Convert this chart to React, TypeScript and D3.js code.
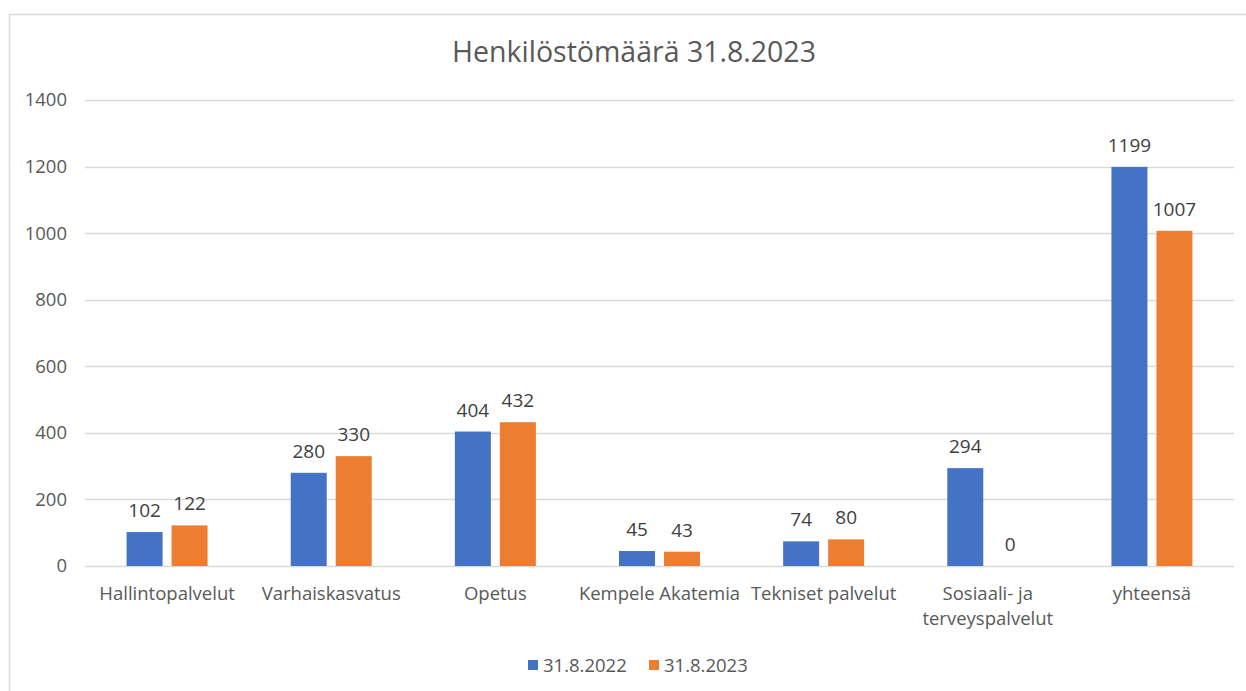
import React from "react";
import * as d3 from "d3";

const categories: string[][] = [
  ["Hallintopalvelut"],
  ["Varhaiskasvatus"],
  ["Opetus"],
  ["Kempele Akatemia"],
  ["Tekniset palvelut"],
  ["Sosiaali- ja", "terveyspalvelut"],
  ["yhteensä"],
];
const seriesNames = ["31.8.2022", "31.8.2023"];
const values2022 = [102, 280, 404, 45, 74, 294, 1199];
const values2023 = [122, 330, 432, 43, 80, 0, 1007];
const yTicks = [0, 200, 400, 600, 800, 1000, 1200, 1400];
const colors = ["#4472C4", "#ED7D31"];

const W = 1246;
const H = 691;
const FONT = "'Open Sans', sans-serif";
const TEXT = "#595959";

export default function App() {
  const left = 85;
  const right = 1234;
  const top = 100;
  const bottom = 566;
  const x = d3.scaleBand<number>().domain(d3.range(categories.length)).range([left, right]).paddingInner(0).paddingOuter(0);
  const y = d3.scaleLinear().domain([0, 1400]).range([bottom, top]);
  const barW = 36;
  const gap = 9;
  const series = [values2022, values2023];

  return (
    <div style={{ position: "absolute", left: 0, top: 0, width: W, height: H, background: "#fff" }}>
      <svg width={W} height={H} style={{ display: "block" }}>
        <rect x={9.5} y={14.5} width={W} height={H} fill="#fff" stroke="#D9D9D9" strokeWidth={1.5} />
        <text x={634} y={62} textAnchor="middle" fontFamily={FONT} fontSize={28.5} fill={TEXT}>
          Henkilöstömäärä 31.8.2023
        </text>
        {yTicks.map((t) => (
          <g key={t}>
            <line x1={left} x2={right} y1={Math.round(y(t)) + 0.5} y2={Math.round(y(t)) + 0.5} stroke="#D9D9D9" strokeWidth={1.5} />
            <text x={67} y={y(t)} dy="0.35em" textAnchor="end" fontFamily={FONT} fontSize={18.5} fill={TEXT}>
              {t}
            </text>
          </g>
        ))}
        {series.map((vals, si) =>
          vals.map((v, i) => {
            const cx = (x(i) as number) + x.bandwidth() / 2;
            const bx = si === 0 ? cx - gap / 2 - barW : cx + gap / 2;
            return (
              <g key={`${si}-${i}`}>
                {v > 0 && (
                  <rect x={bx} y={y(v)} width={barW} height={y(0) - y(v)} fill={colors[si]} />
                )}
                <text x={bx + barW / 2} y={y(v) - 15} textAnchor="middle" fontFamily={FONT} fontSize={19} fill="#404040">
                  {v}
                </text>
              </g>
            );
          })
        )}
        {categories.map((lines, i) => {
          const cx = (x(i) as number) + x.bandwidth() / 2;
          return (
            <text key={i} x={cx} y={600} textAnchor="middle" fontFamily={FONT} fontSize={18.5} fill={TEXT}>
              {lines.map((l, j) => (
                <tspan key={j} x={cx} dy={j === 0 ? 0 : 25}>
                  {l}
                </tspan>
              ))}
            </text>
          );
        })}
        {seriesNames.map((n, i) => {
          const lx = i === 0 ? 528 : 649;
          return (
            <g key={n}>
              <rect x={lx} y={660} width={10} height={10} fill={colors[i]} />
              <text x={lx + 15} y={672} fontFamily={FONT} fontSize={18.5} fill={TEXT}>
                {n}
              </text>
            </g>
          );
        })}
      </svg>
    </div>
  );
}
